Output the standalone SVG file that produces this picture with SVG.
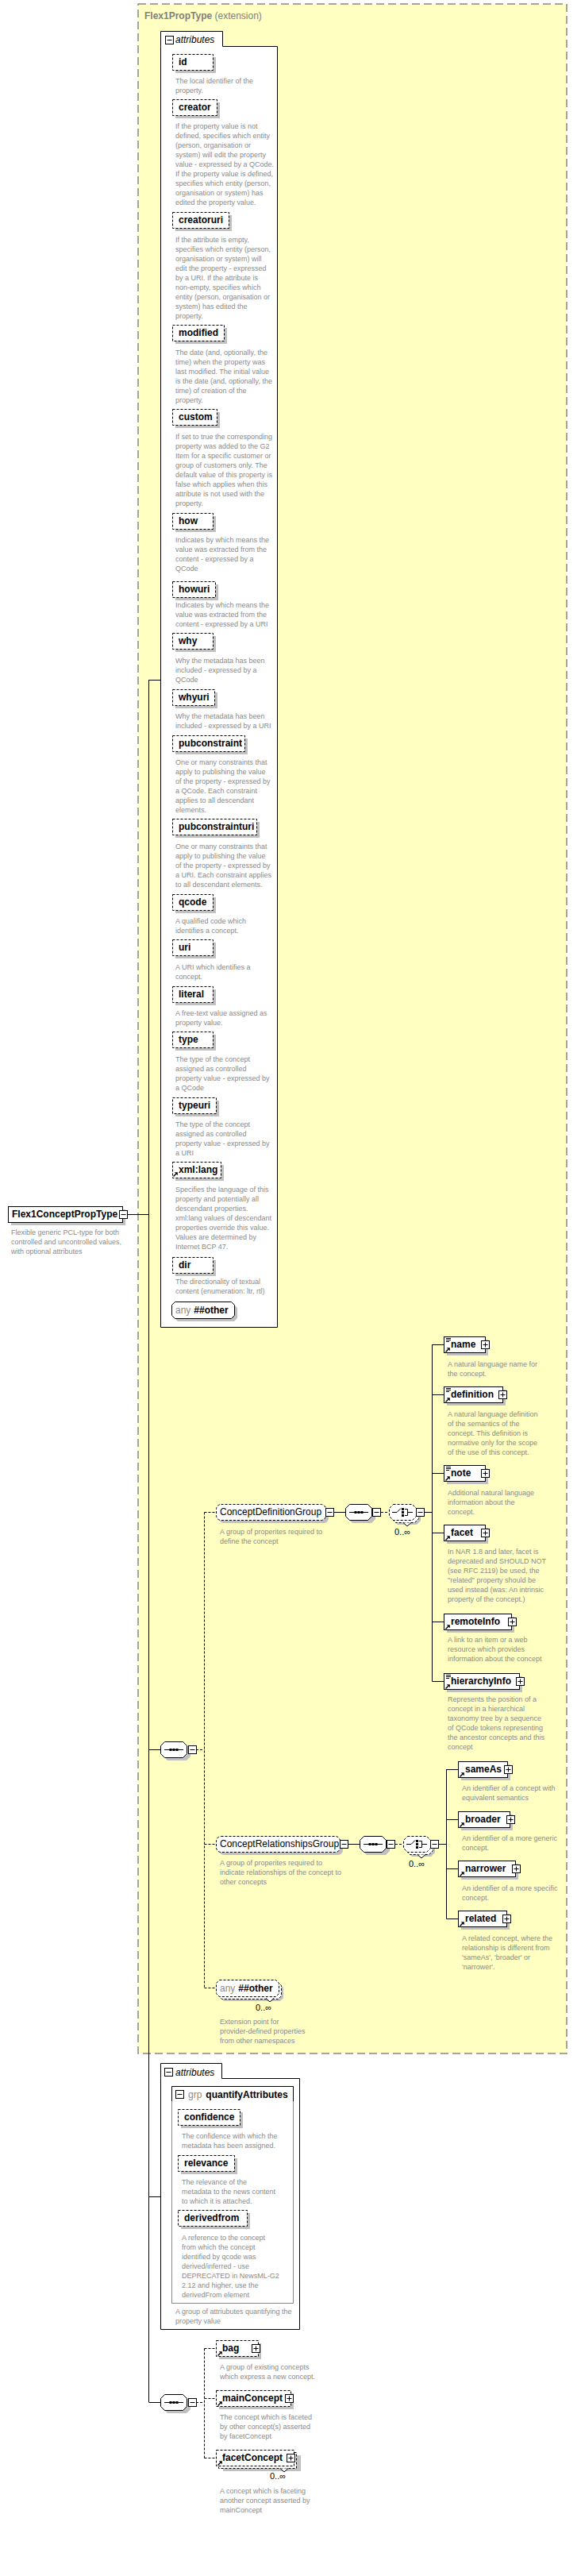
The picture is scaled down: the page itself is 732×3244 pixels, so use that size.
<svg xmlns="http://www.w3.org/2000/svg" width="732" height="3244" viewBox="0 0 732 3244">
<style>
text{font-family:"Liberation Sans",Arial,sans-serif}
.d{font-size:9px;fill:#8a8a8a}
.l{font-size:12px;font-weight:bold;fill:#000}
.g{font-size:12px;fill:#000}
.m{font-size:11px;fill:#000}
.gr{fill:#8a8a8a}
.sh{fill:#c0c0c0}
.ab{fill:#fff;stroke:#000;stroke-dasharray:3,2}
.eb{fill:#fff;stroke:#000}
.ln{stroke:#000;fill:none}
.dl{stroke:#000;fill:none;stroke-dasharray:3,2}
</style>
<defs>
<g id="mi"><rect x="0.5" y="0.5" width="10" height="10" fill="#fff" stroke="#000"/><path d="M2.5 5.5h6" stroke="#000"/></g>
<g id="pl"><rect x="0.5" y="0.5" width="10" height="10" fill="#fff" stroke="#000"/><path d="M2.5 5.5h6M5.5 2.5v6" stroke="#000"/></g>
<g id="ra"><path d="M0.5 6.5L4 3" stroke="#000" stroke-width="1.4"/><path d="M1.8 1.2H5.8V5.2Z" fill="#000"/></g>
<g id="di"><path d="M0 0.5h6M0 2.5h6M0 4.5h4" stroke="#000"/></g>
<g id="seq"><path class="sh" d="M9 4H33L38 9V19L33 24H9L4 19V9Z"/><path d="M5.5 0.5H28.5L33.5 5.5V15.5L28.5 20.5H5.5L0.5 15.5V5.5Z" fill="#fff" stroke="#000"/><path d="M5 10.5H29" stroke="#000"/><rect x="11.5" y="9" width="3" height="3"/><rect x="15.5" y="9" width="3" height="3"/><rect x="19.5" y="9" width="3" height="3"/></g>
<g id="cho"><path class="sh" d="M11 6H35L40 11V21L35 26H11L6 21V11Z"/><path d="M8.5 3.5H32.5L37.5 8.5V18.5L32.5 23.5H8.5L3.5 18.5V8.5Z" fill="#fff" stroke="#000" stroke-dasharray="3,2"/><path d="M5.5 0.5H29.5L34.5 5.5V15.5L29.5 20.5H5.5L0.5 15.5V5.5Z" fill="#fff" stroke="#000" stroke-dasharray="3,2"/><path d="M4 10.5H10L15 5.5" stroke="#000" fill="none"/><rect x="16" y="5" width="3" height="3"/><rect x="16" y="9" width="3" height="3"/><rect x="16" y="13" width="3" height="3"/><path d="M20 6.5H23.5V14.5H20M23.5 10.5H30" stroke="#000" fill="none"/><path d="M18 23.5L23 28L28 23.5" fill="#fff" stroke="#000"/></g>
</defs>

<!-- extension region -->
<g id="Flex1PropType">
<rect x="174" y="5" width="540" height="2581" fill="#ffffc2" stroke="#888" stroke-width="1.5" stroke-dasharray="10,5"/>
<text x="182" y="24" style="font-size:12px;fill:#808080"><tspan font-weight="bold">Flex1PropType</tspan> (extension)</text>
</g>

<!-- connectors -->
<g id="connectors">
<path class="ln" d="M187.5 856V3025M187.5 856.5H202M187.5 2203.5H202M187.5 2766.5H202M187.5 3025.5H202M160 1529.5H187.5"/>
<path class="ln" d="M421 1904.5H435M535 1904.5H544.5M544.5 1693V2117.5M544.5 1693.5H559M544.5 1756.5H559M544.5 1855.5H559M544.5 1930.5H559M544.5 2042.5H559M544.5 2117.5H559"/>
<path class="dl" d="M480 1904.5H490M498 2322.5H508"/>
<path class="ln" d="M439 2322.5H453M552 2322.5H562.5M562.5 2228V2416.5M562.5 2228.5H577M562.5 2291.5H577M562.5 2353.5H577M562.5 2416.5H577"/>
<path class="dl" d="M247 2203.5H257.5M257.5 1904.5V2503.5M257.5 1904.5H272M257.5 2322.5H272M257.5 2503.5H272"/>
<path class="dl" d="M247 3025.5H257.5M257.5 2957.5V3095.5M257.5 2957.5H272M257.5 3020.5H272M257.5 3095.5H272"/>
</g>

<!-- type node -->
<g id="Flex1ConceptPropType">
<rect class="sh" x="14" y="1523" width="144" height="20"/>
<rect class="eb" x="10.5" y="1519.5" width="144" height="20"/>
<text class="l" x="15" y="1533">Flex1ConceptPropType</text>
<use href="#mi" x="150" y="1524"/>
<text class="d" x="14" y="1555"><tspan x="14">Flexible generic PCL-type for both</tspan><tspan x="14" dy="12">controlled and uncontrolled values,</tspan><tspan x="14" dy="12">with optional attributes</tspan></text>
</g>

<!-- attributes box 1 -->
<g id="attributes1">
<path d="M202.5 58.5V39.5H280.5V58.5H349.5V1671.5H202.5Z" fill="#fff" stroke="#000"/>
<use href="#mi" x="208" y="45"/>
<text x="221" y="54" style="font-size:12px;font-style:italic">attributes</text>
</g>

<g id="attr-id"><rect class="sh" x="221" y="72" width="51" height="20"/><rect class="ab" x="217.5" y="68.5" width="51" height="20"/><text class="l" x="225" y="82">id</text>
<text class="d" x="221" y="105"><tspan x="221">The local identifier of the</tspan><tspan x="221" dy="12">property.</tspan></text></g>

<g id="attr-creator"><rect class="sh" x="221" y="129" width="56" height="20"/><rect class="ab" x="217.5" y="125.5" width="56" height="20"/><text class="l" x="225" y="139">creator</text>
<text class="d" x="221" y="162"><tspan x="221">If the property value is not</tspan><tspan x="221" dy="12">defined, specifies which entity</tspan><tspan x="221" dy="12">(person, organisation or</tspan><tspan x="221" dy="12">system) will edit the property</tspan><tspan x="221" dy="12">value - expressed by a QCode.</tspan><tspan x="221" dy="12">If the property value is defined,</tspan><tspan x="221" dy="12">specifies which entity (person,</tspan><tspan x="221" dy="12">organisation or system) has</tspan><tspan x="221" dy="12">edited the property value.</tspan></text></g>

<g id="attr-creatoruri"><rect class="sh" x="221" y="271" width="71" height="20"/><rect class="ab" x="217.5" y="267.5" width="71" height="20"/><text class="l" x="225" y="281">creatoruri</text>
<text class="d" x="221" y="305"><tspan x="221">If the attribute is empty,</tspan><tspan x="221" dy="12">specifies which entity (person,</tspan><tspan x="221" dy="12">organisation or system) will</tspan><tspan x="221" dy="12">edit the property - expressed</tspan><tspan x="221" dy="12">by a URI. If the attribute is</tspan><tspan x="221" dy="12">non-empty, specifies which</tspan><tspan x="221" dy="12">entity (person, organisation or</tspan><tspan x="221" dy="12">system) has edited the</tspan><tspan x="221" dy="12">property.</tspan></text></g>

<g id="attr-modified"><rect class="sh" x="221" y="413" width="65" height="20"/><rect class="ab" x="217.5" y="409.5" width="65" height="20"/><text class="l" x="225" y="423">modified</text>
<text class="d" x="221" y="447"><tspan x="221">The date (and, optionally, the</tspan><tspan x="221" dy="12">time) when the property was</tspan><tspan x="221" dy="12">last modified. The initial value</tspan><tspan x="221" dy="12">is the date (and, optionally, the</tspan><tspan x="221" dy="12">time) of creation of the</tspan><tspan x="221" dy="12">property.</tspan></text></g>

<g id="attr-custom"><rect class="sh" x="221" y="519" width="56" height="20"/><rect class="ab" x="217.5" y="515.5" width="56" height="20"/><text class="l" x="225" y="529">custom</text>
<text class="d" x="221" y="553"><tspan x="221">If set to true the corresponding</tspan><tspan x="221" dy="12">property was added to the G2</tspan><tspan x="221" dy="12">Item for a specific customer or</tspan><tspan x="221" dy="12">group of customers only. The</tspan><tspan x="221" dy="12">default value of this property is</tspan><tspan x="221" dy="12">false which applies when this</tspan><tspan x="221" dy="12">attribute is not used with the</tspan><tspan x="221" dy="12">property.</tspan></text></g>

<g id="attr-how"><rect class="sh" x="221" y="650" width="51" height="20"/><rect class="ab" x="217.5" y="646.5" width="51" height="20"/><text class="l" x="225" y="660">how</text>
<text class="d" x="221" y="683"><tspan x="221">Indicates by which means the</tspan><tspan x="221" dy="12">value was extracted from the</tspan><tspan x="221" dy="12">content - expressed by a</tspan><tspan x="221" dy="12">QCode</tspan></text></g>

<g id="attr-howuri"><rect class="sh" x="221" y="736" width="54" height="20"/><rect class="ab" x="217.5" y="732.5" width="54" height="20"/><text class="l" x="225" y="746">howuri</text>
<text class="d" x="221" y="765"><tspan x="221">Indicates by which means the</tspan><tspan x="221" dy="12">value was extracted from the</tspan><tspan x="221" dy="12">content - expressed by a URI</tspan></text></g>

<g id="attr-why"><rect class="sh" x="221" y="801" width="51" height="20"/><rect class="ab" x="217.5" y="797.5" width="51" height="20"/><text class="l" x="225" y="811">why</text>
<text class="d" x="221" y="835"><tspan x="221">Why the metadata has been</tspan><tspan x="221" dy="12">included - expressed by a</tspan><tspan x="221" dy="12">QCode</tspan></text></g>

<g id="attr-whyuri"><rect class="sh" x="221" y="872" width="53" height="20"/><rect class="ab" x="217.5" y="868.5" width="53" height="20"/><text class="l" x="225" y="882">whyuri</text>
<text class="d" x="221" y="905"><tspan x="221">Why the metadata has been</tspan><tspan x="221" dy="12">included - expressed by a URI</tspan></text></g>

<g id="attr-pubconstraint"><rect class="sh" x="221" y="930" width="91" height="20"/><rect class="ab" x="217.5" y="926.5" width="91" height="20"/><text class="l" x="225" y="940">pubconstraint</text>
<text class="d" x="221" y="963"><tspan x="221">One or many constraints that</tspan><tspan x="221" dy="12">apply to publishing the value</tspan><tspan x="221" dy="12">of the property - expressed by</tspan><tspan x="221" dy="12">a QCode. Each constraint</tspan><tspan x="221" dy="12">applies to all descendant</tspan><tspan x="221" dy="12">elements.</tspan></text></g>

<g id="attr-pubconstrainturi"><rect class="sh" x="221" y="1035" width="106" height="20"/><rect class="ab" x="217.5" y="1031.5" width="106" height="20"/><text class="l" x="225" y="1045">pubconstrainturi</text>
<text class="d" x="221" y="1069"><tspan x="221">One or many constraints that</tspan><tspan x="221" dy="12">apply to publishing the value</tspan><tspan x="221" dy="12">of the property - expressed by</tspan><tspan x="221" dy="12">a URI. Each constraint applies</tspan><tspan x="221" dy="12">to all descendant elements.</tspan></text></g>

<g id="attr-qcode"><rect class="sh" x="221" y="1130" width="51" height="20"/><rect class="ab" x="217.5" y="1126.5" width="51" height="20"/><text class="l" x="225" y="1140">qcode</text>
<text class="d" x="221" y="1163"><tspan x="221">A qualified code which</tspan><tspan x="221" dy="12">identifies a concept.</tspan></text></g>

<g id="attr-uri"><rect class="sh" x="221" y="1187" width="51" height="20"/><rect class="ab" x="217.5" y="1183.5" width="51" height="20"/><text class="l" x="225" y="1197">uri</text>
<text class="d" x="221" y="1221"><tspan x="221">A URI which identifies a</tspan><tspan x="221" dy="12">concept.</tspan></text></g>

<g id="attr-literal"><rect class="sh" x="221" y="1246" width="51" height="20"/><rect class="ab" x="217.5" y="1242.5" width="51" height="20"/><text class="l" x="225" y="1256">literal</text>
<text class="d" x="221" y="1279"><tspan x="221">A free-text value assigned as</tspan><tspan x="221" dy="12">property value.</tspan></text></g>

<g id="attr-type"><rect class="sh" x="221" y="1303" width="51" height="20"/><rect class="ab" x="217.5" y="1299.5" width="51" height="20"/><text class="l" x="225" y="1313">type</text>
<text class="d" x="221" y="1337"><tspan x="221">The type of the concept</tspan><tspan x="221" dy="12">assigned as controlled</tspan><tspan x="221" dy="12">property value - expressed by</tspan><tspan x="221" dy="12">a QCode</tspan></text></g>

<g id="attr-typeuri"><rect class="sh" x="221" y="1386" width="55" height="20"/><rect class="ab" x="217.5" y="1382.5" width="55" height="20"/><text class="l" x="225" y="1396">typeuri</text>
<text class="d" x="221" y="1419"><tspan x="221">The type of the concept</tspan><tspan x="221" dy="12">assigned as controlled</tspan><tspan x="221" dy="12">property value - expressed by</tspan><tspan x="221" dy="12">a URI</tspan></text></g>

<g id="attr-xmllang"><rect class="sh" x="221" y="1467" width="61" height="20"/><rect class="ab" x="217.5" y="1463.5" width="61" height="20"/><use href="#ra" x="218" y="1475"/><text class="l" x="225" y="1477">xml:lang</text>
<text class="d" x="221" y="1501"><tspan x="221">Specifies the language of this</tspan><tspan x="221" dy="12">property and potentially all</tspan><tspan x="221" dy="12">descendant properties.</tspan><tspan x="221" dy="12">xml:lang values of descendant</tspan><tspan x="221" dy="12">properties override this value.</tspan><tspan x="221" dy="12">Values are determined by</tspan><tspan x="221" dy="12">Internet BCP 47.</tspan></text></g>

<g id="attr-dir"><rect class="sh" x="221" y="1587" width="51" height="20"/><rect class="ab" x="217.5" y="1583.5" width="51" height="20"/><text class="l" x="225" y="1597">dir</text>
<text class="d" x="221" y="1617"><tspan x="221">The directionality of textual</tspan><tspan x="221" dy="12">content (enumeration: ltr, rtl)</tspan></text></g>

<g id="any1"><path class="sh" d="M224 1643H295L299 1647V1660L295 1664H224L220 1660V1647Z"/><path d="M220.5 1639.5H291.5L295.5 1643.5V1656.5L291.5 1660.5H220.5L216.5 1656.5V1643.5Z" fill="#fff" stroke="#000"/><text x="221" y="1654" style="font-size:12px"><tspan class="gr">any</tspan><tspan font-weight="bold" dx="4">##other</tspan></text></g>

<!-- main sequence -->
<g id="seq-main"><use href="#seq" x="202" y="2193"/><use href="#mi" x="237" y="2198"/></g>

<!-- ConceptDefinitionGroup -->
<g id="ConceptDefinitionGroup"><rect class="sh" x="276" y="1898" width="138" height="20" rx="6"/><rect class="ab" x="272.5" y="1894.5" width="138" height="20" rx="6"/><text class="g" x="277" y="1908">ConceptDefinitionGroup</text><use href="#mi" x="410" y="1899"/>
<text class="d" x="277" y="1932"><tspan x="277">A group of properites required to</tspan><tspan x="277" dy="12">define the concept</tspan></text></g>
<g id="seq-cdg"><use href="#seq" x="435" y="1894"/><use href="#mi" x="469" y="1899"/></g>
<g id="cho-cdg"><use href="#cho" x="490" y="1894"/><use href="#mi" x="524" y="1899"/><text class="m" x="497" y="1933">0..∞</text></g>

<g id="el-name"><rect class="sh" x="563" y="1687" width="52" height="20"/><rect class="eb" x="559.5" y="1683.5" width="52" height="20"/><use href="#di" x="562" y="1685"/><use href="#ra" x="561" y="1696"/><text class="l" x="568" y="1697">name</text><use href="#pl" x="606" y="1688"/>
<text class="d" x="564" y="1721"><tspan x="564">A natural language name for</tspan><tspan x="564" dy="12">the concept.</tspan></text></g>

<g id="el-definition"><rect class="sh" x="563" y="1750" width="74" height="20"/><rect class="eb" x="559.5" y="1746.5" width="74" height="20"/><use href="#di" x="562" y="1748"/><use href="#ra" x="561" y="1759"/><text class="l" x="568" y="1760">definition</text><use href="#pl" x="628" y="1751"/>
<text class="d" x="564" y="1784"><tspan x="564">A natural language definition</tspan><tspan x="564" dy="12">of the semantics of the</tspan><tspan x="564" dy="12">concept. This definition is</tspan><tspan x="564" dy="12">normative only for the scope</tspan><tspan x="564" dy="12">of the use of this concept.</tspan></text></g>

<g id="el-note"><rect class="sh" x="563" y="1849" width="52" height="20"/><rect class="eb" x="559.5" y="1845.5" width="52" height="20"/><use href="#di" x="562" y="1847"/><use href="#ra" x="561" y="1858"/><text class="l" x="568" y="1859">note</text><use href="#pl" x="606" y="1850"/>
<text class="d" x="564" y="1883"><tspan x="564">Additional natural language</tspan><tspan x="564" dy="12">information about the</tspan><tspan x="564" dy="12">concept.</tspan></text></g>

<g id="el-facet"><rect class="sh" x="563" y="1924" width="52" height="20"/><rect class="eb" x="559.5" y="1920.5" width="52" height="20"/><use href="#ra" x="561" y="1933"/><text class="l" x="568" y="1934">facet</text><use href="#pl" x="606" y="1925"/>
<text class="d" x="564" y="1957"><tspan x="564">In NAR 1.8 and later, facet is</tspan><tspan x="564" dy="12">deprecated and SHOULD NOT</tspan><tspan x="564" dy="12">(see RFC 2119) be used, the</tspan><tspan x="564" dy="12">"related" property should be</tspan><tspan x="564" dy="12">used instead (was: An intrinsic</tspan><tspan x="564" dy="12">property of the concept.)</tspan></text></g>

<g id="el-remoteInfo"><rect class="sh" x="563" y="2036" width="85" height="20"/><rect class="eb" x="559.5" y="2032.5" width="85" height="20"/><use href="#ra" x="561" y="2045"/><text class="l" x="568" y="2046">remoteInfo</text><use href="#pl" x="640" y="2037"/>
<text class="d" x="564" y="2068"><tspan x="564">A link to an item or a web</tspan><tspan x="564" dy="12">resource which provides</tspan><tspan x="564" dy="12">information about the concept</tspan></text></g>

<g id="el-hierarchyInfo"><rect class="sh" x="563" y="2111" width="95" height="20"/><rect class="eb" x="559.5" y="2107.5" width="95" height="20"/><use href="#di" x="562" y="2109"/><use href="#ra" x="561" y="2120"/><text class="l" x="568" y="2121">hierarchyInfo</text><use href="#pl" x="650" y="2112"/>
<text class="d" x="564" y="2143"><tspan x="564">Represents the position of a</tspan><tspan x="564" dy="12">concept in a hierarchical</tspan><tspan x="564" dy="12">taxonomy tree by a sequence</tspan><tspan x="564" dy="12">of QCode tokens representing</tspan><tspan x="564" dy="12">the ancestor concepts and this</tspan><tspan x="564" dy="12">concept</tspan></text></g>

<!-- ConceptRelationshipsGroup -->
<g id="ConceptRelationshipsGroup"><rect class="sh" x="276" y="2316" width="156" height="20" rx="6"/><rect class="ab" x="272.5" y="2312.5" width="156" height="20" rx="6"/><text class="g" x="277" y="2326">ConceptRelationshipsGroup</text><use href="#mi" x="428" y="2317"/>
<text class="d" x="277" y="2349"><tspan x="277">A group of properites required to</tspan><tspan x="277" dy="12">indicate relationships of the concept to</tspan><tspan x="277" dy="12">other concepts</tspan></text></g>
<g id="seq-crg"><use href="#seq" x="453" y="2312"/><use href="#mi" x="487" y="2317"/></g>
<g id="cho-crg"><use href="#cho" x="508" y="2312"/><use href="#mi" x="542" y="2317"/><text class="m" x="515" y="2351">0..∞</text></g>

<g id="el-sameAs"><rect class="sh" x="581" y="2222" width="62" height="20"/><rect class="eb" x="577.5" y="2218.5" width="62" height="20"/><use href="#ra" x="579" y="2231"/><text class="l" x="586" y="2232">sameAs</text><use href="#pl" x="635" y="2223"/>
<text class="d" x="582" y="2255"><tspan x="582">An identifier of a concept with</tspan><tspan x="582" dy="12">equivalent semantics</tspan></text></g>

<g id="el-broader"><rect class="sh" x="581" y="2285" width="65" height="20"/><rect class="eb" x="577.5" y="2281.5" width="65" height="20"/><use href="#ra" x="579" y="2294"/><text class="l" x="586" y="2295">broader</text><use href="#pl" x="638" y="2286"/>
<text class="d" x="582" y="2318"><tspan x="582">An identifier of a more generic</tspan><tspan x="582" dy="12">concept.</tspan></text></g>

<g id="el-narrower"><rect class="sh" x="581" y="2347" width="72" height="20"/><rect class="eb" x="577.5" y="2343.5" width="72" height="20"/><use href="#ra" x="579" y="2356"/><text class="l" x="586" y="2357">narrower</text><use href="#pl" x="645" y="2348"/>
<text class="d" x="582" y="2381"><tspan x="582">An identifier of a more specific</tspan><tspan x="582" dy="12">concept.</tspan></text></g>

<g id="el-related"><rect class="sh" x="581" y="2410" width="61" height="20"/><rect class="eb" x="577.5" y="2406.5" width="61" height="20"/><use href="#ra" x="579" y="2419"/><text class="l" x="586" y="2420">related</text><use href="#pl" x="633" y="2411"/>
<text class="d" x="582" y="2444"><tspan x="582">A related concept, where the</tspan><tspan x="582" dy="12">relationship is different from</tspan><tspan x="582" dy="12">'sameAs', 'broader' or</tspan><tspan x="582" dy="12">'narrower'.</tspan></text></g>

<g id="any2"><path class="sh" d="M282 2499H353L357 2503V2516L353 2520H282L278 2516V2503Z"/><path d="M279.5 2496.5H350.5L354.5 2500.5V2513.5L350.5 2517.5H279.5L275.5 2513.5V2500.5Z" fill="#fff" stroke="#000" stroke-dasharray="3,2"/><path d="M276.5 2493.5H347.5L351.5 2497.5V2510.5L347.5 2514.5H276.5L272.5 2510.5V2497.5Z" fill="#fff" stroke="#000" stroke-dasharray="3,2"/><path d="M335 2516.5L340 2521L345 2516.5" fill="#fff" stroke="#000"/><text x="277" y="2508" style="font-size:12px"><tspan class="gr">any</tspan><tspan font-weight="bold" dx="4">##other</tspan></text><text class="m" x="322" y="2532">0..∞</text>
<text class="d" x="277" y="2549"><tspan x="277">Extension point for</tspan><tspan x="277" dy="12">provider-defined properties</tspan><tspan x="277" dy="12">from other namespaces</tspan></text></g>

<!-- attributes box 2 -->
<g id="attributes2">
<path d="M202.5 2617.5V2598.5H279.5V2617.5H377.5V2933.5H202.5Z" fill="#fff" stroke="#000"/>
<use href="#mi" x="207" y="2604"/>
<text x="221" y="2614" style="font-size:12px;font-style:italic">attributes</text>
</g>
<g id="grp-quantifyAttributes">
<rect x="216.5" y="2627.5" width="153" height="273" fill="#fff" stroke="#888"/>
<path d="M216.5 2646V2627.5H369.5V2646" fill="none" stroke="#000"/>
<use href="#mi" x="221" y="2632"/>
<text x="237" y="2642" style="font-size:12px"><tspan class="gr">grp</tspan><tspan font-weight="bold" dx="5">quantifyAttributes</tspan></text>
<text class="d" x="221" y="2914"><tspan x="221">A group of attriubutes quantifying the</tspan><tspan x="221" dy="12">property value</tspan></text>
</g>
<g id="attr-confidence"><rect class="sh" x="228" y="2660" width="78" height="20"/><rect class="ab" x="224.5" y="2656.5" width="78" height="20"/><text class="l" x="232" y="2670">confidence</text>
<text class="d" x="229" y="2693"><tspan x="229">The confidence with which the</tspan><tspan x="229" dy="12">metadata has been assigned.</tspan></text></g>
<g id="attr-relevance"><rect class="sh" x="228" y="2718" width="71" height="20"/><rect class="ab" x="224.5" y="2714.5" width="71" height="20"/><text class="l" x="232" y="2728">relevance</text>
<text class="d" x="229" y="2751"><tspan x="229">The relevance of the</tspan><tspan x="229" dy="12">metadata to the news content</tspan><tspan x="229" dy="12">to which it is attached.</tspan></text></g>
<g id="attr-derivedfrom"><rect class="sh" x="228" y="2787" width="87" height="20"/><rect class="ab" x="224.5" y="2783.5" width="87" height="20"/><text class="l" x="232" y="2797">derivedfrom</text>
<text class="d" x="229" y="2821"><tspan x="229">A reference to the concept</tspan><tspan x="229" dy="12">from which the concept</tspan><tspan x="229" dy="12">identified by qcode was</tspan><tspan x="229" dy="12">derived/inferred - use</tspan><tspan x="229" dy="12">DEPRECATED in NewsML-G2</tspan><tspan x="229" dy="12">2.12 and higher, use the</tspan><tspan x="229" dy="12">derivedFrom element</tspan></text></g>

<!-- final sequence -->
<g id="seq-final"><use href="#seq" x="202" y="3015"/><use href="#mi" x="237" y="3020"/></g>

<g id="el-bag"><rect class="sh" x="276" y="2951" width="53" height="20"/><rect class="ab" x="272.5" y="2947.5" width="53" height="20"/><use href="#ra" x="274" y="2960"/><text class="l" x="280" y="2961">bag</text><use href="#pl" x="317" y="2952"/>
<text class="d" x="277" y="2984"><tspan x="277">A group of existing concepts</tspan><tspan x="277" dy="12">which express a new concept.</tspan></text></g>

<g id="el-mainConcept"><rect class="sh" x="276" y="3014" width="94" height="20"/><rect class="ab" x="272.5" y="3010.5" width="94" height="20"/><use href="#ra" x="274" y="3023"/><text class="l" x="280" y="3024">mainConcept</text><use href="#pl" x="359" y="3015"/>
<text class="d" x="277" y="3047"><tspan x="277">The concept which is faceted</tspan><tspan x="277" dy="12">by other concept(s) asserted</tspan><tspan x="277" dy="12">by facetConcept</tspan></text></g>

<g id="el-facetConcept"><rect class="sh" x="281" y="3092" width="98" height="20"/><rect class="ab" x="275.5" y="3088.5" width="98" height="20"/><rect class="ab" x="272.5" y="3085.5" width="98" height="20"/><path d="M353 3108.5L358 3113L363 3108.5" fill="#fff" stroke="#000"/><use href="#ra" x="274" y="3098"/><text class="l" x="280" y="3099">facetConcept</text><use href="#pl" x="361" y="3090"/><text class="m" x="340" y="3122">0..∞</text>
<text class="d" x="277" y="3140"><tspan x="277">A concept which is faceting</tspan><tspan x="277" dy="12">another concept asserted by</tspan><tspan x="277" dy="12">mainConcept</tspan></text></g>
</svg>
